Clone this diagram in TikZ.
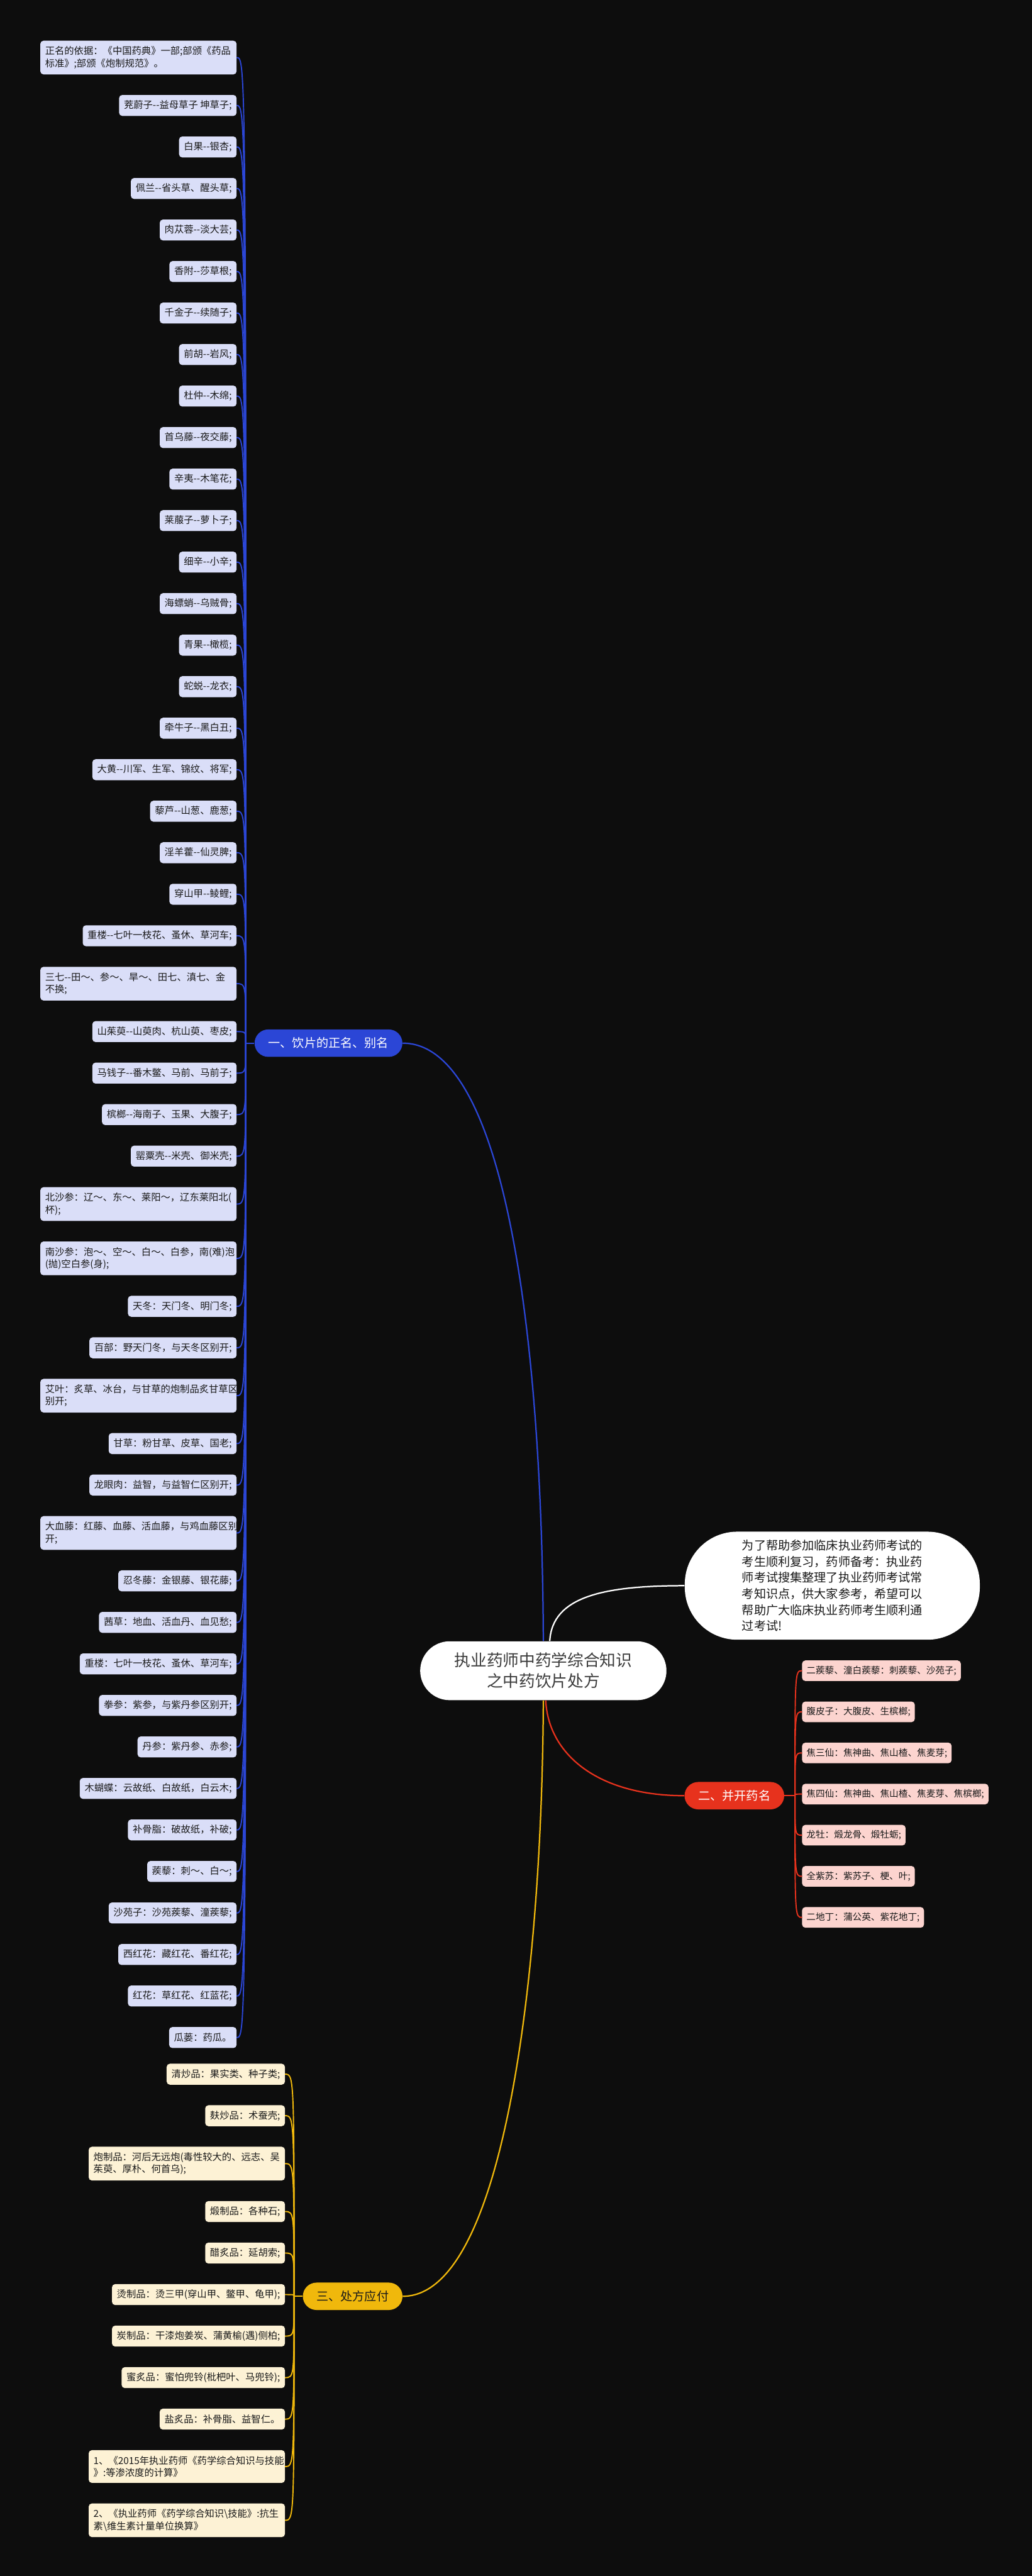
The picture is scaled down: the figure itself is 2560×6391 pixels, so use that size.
\documentclass[tikz,border=0pt]{standalone}
\usepackage{fontspec}
\setmainfont{Noto Sans CJK SC}
\usetikzlibrary{positioning}

\definecolor{bgdark}{HTML}{0D0D0D}
\definecolor{blueline}{HTML}{2B46D6}
\definecolor{bluefill}{HTML}{DADEF8}
\definecolor{redline}{HTML}{E7321D}
\definecolor{redfill}{HTML}{FCD4CF}
\definecolor{yelline}{HTML}{F0B80C}
\definecolor{yelfill}{HTML}{FDF2D5}
\definecolor{inkdark}{HTML}{1A1A1A}

% two hyphens, kept apart so they stay "--"
\newcommand{\dsh}{-\kern0pt-}

\begin{document}
\begin{tikzpicture}[x=0.1mm, y=-0.1mm, node distance=5.1mm,
  leafA/.style={fill=bluefill, text=inkdark, rounded corners=0.8mm, inner xsep=1.2mm, inner ysep=1.3mm, outer sep=0pt,
                minimum height=5.2mm, align=left, font=\fontsize{6.8}{8.5}\selectfont},
  leafB/.style={leafA, fill=redfill, inner xsep=1.1mm, minimum height=5.1mm, font=\fontsize{6.5}{8}\selectfont},
  leafC/.style={leafA, fill=yelfill},
  wide/.style={text width=46.3mm, inner ysep=1.45mm},
  stackL/.style={below=of #1, anchor=north east},
  stackR/.style={below=of #1, anchor=north west},
  branchbox/.style={rounded corners=3.4mm, minimum height=6.8mm, inner xsep=3.4mm, font=\fontsize{8.5}{10}\selectfont},
  linkA/.style={draw=blueline, line width=0.3mm},
  linkB/.style={draw=redline, line width=0.3mm},
  linkC/.style={draw=yelline, line width=0.3mm},
  rootlink/.style={line width=0.35mm}]

% background
\fill[bgdark] (0,0) rectangle (2560,6391);

% root and note
\node[fill=white, text=inkdark!85, rounded corners=7.3mm, minimum width=61.1mm, minimum height=14.6mm,
      align=center, font=\fontsize{11.4}{14.6}\selectfont] (root) at (1348,4145) {执业药师中药学综合知识\\之中药饮片处方};
\node[fill=white, text=inkdark, rounded corners=13mm, minimum width=73.2mm, minimum height=26.8mm,
      align=left, font=\fontsize{8.5}{11.4}\selectfont] (note) at (2065,3934)
      {为了帮助参加临床执业药师考试的\\考生顺利复习，药师备考：执业药\\师考试搜集整理了执业药师考试常\\考知识点，供大家参考，希望可以\\帮助广大临床执业药师考生顺利通\\过考试!};

% branches
\node[branchbox, fill=blueline, text=white] (b1) at (815,2588) {一、饮片的正名、别名};
\node[branchbox, fill=redline, text=white] (b2) at (1822,4455) {二、并开药名};
\node[branchbox, fill=yelline, text=inkdark] (b3) at (875,5697) {三、处方应付};

\draw[rootlink, blueline] (b1.east) .. controls (1250,2588) and (1345,3300) .. (root.north);
\draw[rootlink, white] ([xshift=1.6mm]root.north) .. controls (1370,3960) and (1500,3934) .. (note.west);
\draw[rootlink, redline] ([xshift=0.6mm]root.south) .. controls (1360,4350) and (1480,4455) .. (b2.west);
\draw[rootlink, yelline] (root.south) .. controls (1345,4900) and (1250,5697) .. (b3.east);

% group 1
\node[leafA, wide, anchor=north east] (L1) at (587,101) {正名的依据：《中国药典》一部;部颁《药品\\标准》;部颁《炮制规范》。};
\node[leafA, stackL=L1.south east] (L2) {茺蔚子\dsh 益母草子 坤草子;};
\node[leafA, stackL=L2.south east] (L3) {白果\dsh 银杏;};
\node[leafA, stackL=L3.south east] (L4) {佩兰\dsh 省头草、醒头草;};
\node[leafA, stackL=L4.south east] (L5) {肉苁蓉\dsh 淡大芸;};
\node[leafA, stackL=L5.south east] (L6) {香附\dsh 莎草根;};
\node[leafA, stackL=L6.south east] (L7) {千金子\dsh 续随子;};
\node[leafA, stackL=L7.south east] (L8) {前胡\dsh 岩风;};
\node[leafA, stackL=L8.south east] (L9) {杜仲\dsh 木绵;};
\node[leafA, stackL=L9.south east] (L10) {首乌藤\dsh 夜交藤;};
\node[leafA, stackL=L10.south east] (L11) {辛夷\dsh 木笔花;};
\node[leafA, stackL=L11.south east] (L12) {莱菔子\dsh 萝卜子;};
\node[leafA, stackL=L12.south east] (L13) {细辛\dsh 小辛;};
\node[leafA, stackL=L13.south east] (L14) {海螵蛸\dsh 乌贼骨;};
\node[leafA, stackL=L14.south east] (L15) {青果\dsh 橄榄;};
\node[leafA, stackL=L15.south east] (L16) {蛇蜕\dsh 龙衣;};
\node[leafA, stackL=L16.south east] (L17) {牵牛子\dsh 黑白丑;};
\node[leafA, stackL=L17.south east] (L18) {大黄\dsh 川军、生军、锦纹、将军;};
\node[leafA, stackL=L18.south east] (L19) {藜芦\dsh 山葱、鹿葱;};
\node[leafA, stackL=L19.south east] (L20) {淫羊藿\dsh 仙灵脾;};
\node[leafA, stackL=L20.south east] (L21) {穿山甲\dsh 鲮鲤;};
\node[leafA, stackL=L21.south east] (L22) {重楼\dsh 七叶一枝花、蚤休、草河车;};
\node[leafA, wide, stackL=L22.south east] (L23) {三七\dsh 田～、参～、旱～、田七、滇七、金\\不换;};
\node[leafA, stackL=L23.south east] (L24) {山茱萸\dsh 山萸肉、杭山萸、枣皮;};
\node[leafA, stackL=L24.south east] (L25) {马钱子\dsh 番木鳖、马前、马前子;};
\node[leafA, stackL=L25.south east] (L26) {槟榔\dsh 海南子、玉果、大腹子;};
\node[leafA, stackL=L26.south east] (L27) {罂粟壳\dsh 米壳、御米壳;};
\node[leafA, wide, stackL=L27.south east] (L28) {北沙参：辽～、东～、莱阳～，辽东莱阳北(\\杯);};
\node[leafA, wide, stackL=L28.south east] (L29) {南沙参：泡～、空～、白～、白参，南(难)泡\\(抛)空白参(身);};
\node[leafA, stackL=L29.south east] (L30) {天冬：天门冬、明门冬;};
\node[leafA, stackL=L30.south east] (L31) {百部：野天门冬，与天冬区别开;};
\node[leafA, wide, stackL=L31.south east] (L32) {艾叶：炙草、冰台，与甘草的炮制品炙甘草区\\别开;};
\node[leafA, stackL=L32.south east] (L33) {甘草：粉甘草、皮草、国老;};
\node[leafA, stackL=L33.south east] (L34) {龙眼肉：益智，与益智仁区别开;};
\node[leafA, wide, stackL=L34.south east] (L35) {大血藤：红藤、血藤、活血藤，与鸡血藤区别\\开;};
\node[leafA, stackL=L35.south east] (L36) {忍冬藤：金银藤、银花藤;};
\node[leafA, stackL=L36.south east] (L37) {茜草：地血、活血丹、血见愁;};
\node[leafA, stackL=L37.south east] (L38) {重楼：七叶一枝花、蚤休、草河车;};
\node[leafA, stackL=L38.south east] (L39) {拳参：紫参，与紫丹参区别开;};
\node[leafA, stackL=L39.south east] (L40) {丹参：紫丹参、赤参;};
\node[leafA, stackL=L40.south east] (L41) {木蝴蝶：云故纸、白故纸，白云木;};
\node[leafA, stackL=L41.south east] (L42) {补骨脂：破故纸，补破;};
\node[leafA, stackL=L42.south east] (L43) {蒺藜：刺～、白～;};
\node[leafA, stackL=L43.south east] (L44) {沙苑子：沙苑蒺藜、潼蒺藜;};
\node[leafA, stackL=L44.south east] (L45) {西红花：藏红花、番红花;};
\node[leafA, stackL=L45.south east] (L46) {红花：草红花、红蓝花;};
\node[leafA, stackL=L46.south east] (L47) {瓜蒌：药瓜。};

\coordinate (j1) at ([xshift=-2.1mm]b1.west);
\draw[linkA] (b1.west) -- (j1);
\foreach \i in {1,...,47} {
    \draw[linkA] (j1) .. controls (j1 |- L\i.east) .. (L\i.east);
}

% group 2
\node[leafB, anchor=west] (R1) at (1990,4145) {二蒺藜、潼白蒺藜：刺蒺藜、沙苑子;};
\node[leafB, stackR=R1.south west] (R2) {腹皮子：大腹皮、生槟榔;};
\node[leafB, stackR=R2.south west] (R3) {焦三仙：焦神曲、焦山楂、焦麦芽;};
\node[leafB, stackR=R3.south west] (R4) {焦四仙：焦神曲、焦山楂、焦麦芽、焦槟榔;};
\node[leafB, stackR=R4.south west] (R5) {龙牡：煅龙骨、煅牡蛎;};
\node[leafB, stackR=R5.south west] (R6) {全紫苏：紫苏子、梗、叶;};
\node[leafB, stackR=R6.south west] (R7) {二地丁：蒲公英、紫花地丁;};

\coordinate (j2) at ([xshift=2.6mm]b2.east);
\draw[linkB] (b2.east) -- (j2);
\foreach \i in {1,...,7} {
    \draw[linkB] (j2) .. controls (j2 |- R\i.west) .. (R\i.west);
}

% group 3
\node[leafC, anchor=north east] (P1) at (707,5120) {清炒品：果实类、种子类;};
\node[leafC, stackL=P1.south east] (P2) {麸炒品：术蚕壳;};
\node[leafC, wide, stackL=P2.south east] (P3) {炮制品：河后无远炮(毒性较大的、远志、吴\\茱萸、厚朴、何首乌);};
\node[leafC, stackL=P3.south east] (P4) {煅制品：各种石;};
\node[leafC, stackL=P4.south east] (P5) {醋炙品：延胡索;};
\node[leafC, stackL=P5.south east] (P6) {烫制品：烫三甲(穿山甲、鳖甲、龟甲);};
\node[leafC, stackL=P6.south east] (P7) {炭制品：干漆炮姜炭、蒲黄榆(遇)侧柏;};
\node[leafC, stackL=P7.south east] (P8) {蜜炙品：蜜怕兜铃(枇杷叶、马兜铃);};
\node[leafC, stackL=P8.south east] (P9) {盐炙品：补骨脂、益智仁。};
\node[leafC, wide, stackL=P9.south east] (P10) {1、《2015年执业药师《药学综合知识与技能\\》:等渗浓度的计算》};
\node[leafC, wide, stackL=P10.south east] (P11) {2、《执业药师《药学综合知识\textbackslash 技能》:抗生\\素\textbackslash 维生素计量单位换算》};

\coordinate (j3) at ([xshift=-2.1mm]b3.west);
\draw[linkC] (b3.west) -- (j3);
\foreach \i in {1,...,11} {
    \draw[linkC] (j3) .. controls (j3 |- P\i.east) .. (P\i.east);
}

\end{tikzpicture}
\end{document}
